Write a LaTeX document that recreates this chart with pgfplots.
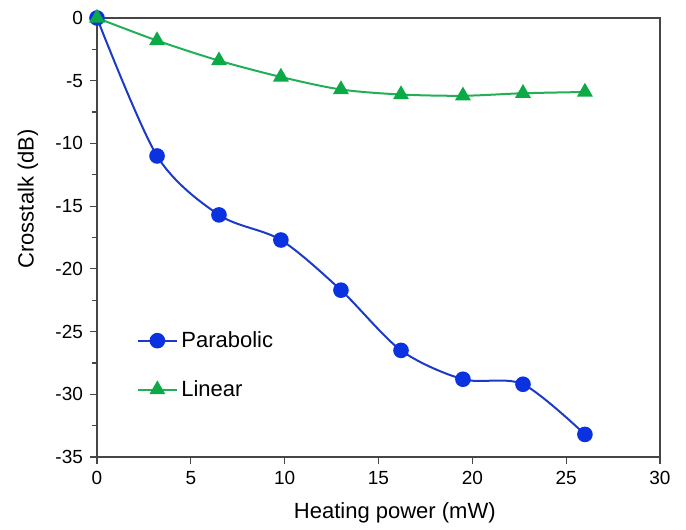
\documentclass[border=0pt]{standalone}
\usepackage{fontspec}
\setmainfont{Liberation Sans}
\usepackage{pgfplots}
\pgfplotsset{compat=1.18}

\definecolor{parab}{RGB}{28,58,200}
\definecolor{parabm}{RGB}{10,50,225}
\definecolor{lin}{RGB}{35,175,85}
\definecolor{linm}{RGB}{10,170,70}
\definecolor{axgray}{RGB}{70,70,70}

\begin{document}
\begin{tikzpicture}
\begin{axis}[
  scale only axis,
  width=281.5pt, height=219.5pt,
  xmin=0, xmax=30, ymin=-35, ymax=0,
  xtick={0,5,...,30},
  ytick={-35,-30,...,0},
  minor y tick num=1,
  xtick pos=bottom, ytick pos=left,
  tick align=outside,
  major tick length=3.5pt,
  minor tick length=2.5pt,
  axis line style={axgray, line width=0.75pt},
  tick style={axgray, line width=0.6pt},
  every tick label/.append style={font=\fontsize{9.5}{11}\selectfont},
  /pgf/number format/assume math mode=true,
  xlabel={Heating power (mW)},
  ylabel={Crosstalk (dB)},
  label style={font=\fontsize{11}{13}\selectfont},
  xlabel style={at={(axis description cs:0.529,-0.139)}, anchor=base},
  ylabel style={at={(axis description cs:-0.1226,0.588)}, anchor=center},
  clip=false,
  legend style={draw=none, fill=none, at={(rel axis cs:0.071,0.267)}, anchor=north west,
    font=\fontsize{11}{13}\selectfont, row sep=11pt, inner sep=0pt, yshift=6.5pt},
  legend cell align=left,
  legend image code/.code={\draw[mark repeat=2,mark phase=2]
    plot coordinates {(0pt,0pt)(9.5pt,0pt)(19pt,0pt)};},
]
\addplot[parab, line width=1pt, smooth, mark=*, mark size=3.4pt,
  mark options={fill=parabm, draw=parabm}] coordinates {
  (0,0)(3.2,-11.0)(6.5,-15.7)(9.8,-17.7)(13.0,-21.7)(16.2,-26.5)
  (19.5,-28.8)(22.7,-29.2)(26.0,-33.2)
};
\addlegendentry{Parabolic}
\addplot[lin, line width=1pt, smooth, mark=triangle*, mark size=3.6pt,
  mark options={fill=linm, draw=linm}] coordinates {
  (0,0)(3.2,-1.8)(6.5,-3.4)(9.8,-4.7)(13.0,-5.7)(16.2,-6.1)
  (19.5,-6.2)(22.7,-6.0)(26.0,-5.9)
};
\addlegendentry{Linear}
\coordinate (sw) at (rel axis cs:0,0);
\coordinate (ne) at (rel axis cs:1,1);
\end{axis}
\useasboundingbox ([xshift=-48.5pt,yshift=-35pt]sw) rectangle ([xshift=13pt,yshift=9pt]ne);
\end{tikzpicture}
\end{document}
